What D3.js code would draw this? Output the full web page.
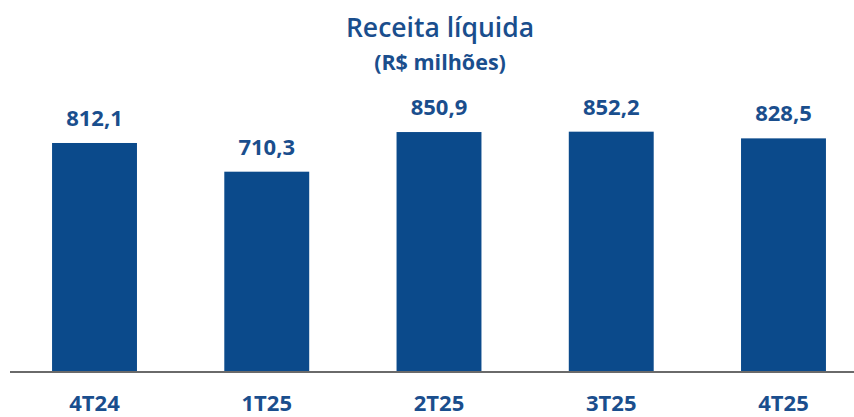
<!DOCTYPE html>
<html>
<head>
<meta charset="utf-8">
<script src="https://cdn.jsdelivr.net/npm/d3@7"></script>
<style>
  body { margin: 0; background: #fff; }
  text { font-family: "Open Sans", sans-serif; }
</style>
</head>
<body>
<div id="chart"></div>
<script>
// data
let quarters = ["4T24", "1T25", "2T25", "3T25", "4T25"]
let revenue = [812.1, 710.3, 850.9, 852.2, 828.5]

let width = 854, height = 417
let barColor = "#0B4A8B", textColor = "#1A4E8D"

let svg = d3.select("#chart")
    .append("svg")
        .attr("width", width)
        .attr("height", height)

// scales
let x = d3.scaleBand()
    .domain(quarters)
    .range([17, 861])
    .paddingInner(0.507)
    .paddingOuter(0.2035)

let y = d3.scaleLinear()
    .domain([0, 1000])
    .range([372, 90])

// title
svg.append("text")
    .attr("x", 440).attr("y", 37)
    .attr("text-anchor", "middle")
    .style("font-size", "26.5px").style("font-weight", 600)
    .attr("fill", textColor)
    .text("Receita líquida")

svg.append("text")
    .attr("x", 440).attr("y", 70)
    .attr("text-anchor", "middle")
    .style("font-size", "21.5px").style("font-weight", 700)
    .attr("fill", textColor)
    .text("(R$ milhões)")

// bars
svg.selectAll("rect.bar")
    .data(revenue)
    .enter()
    .append("rect")
        .attr("class", "bar")
        .attr("x", (d, i) => x(quarters[i]))
        .attr("width", x.bandwidth())
        .attr("y", d => y(d))
        .attr("height", d => y(0) - y(d))
        .attr("fill", barColor)

// value labels
svg.selectAll("text.val")
    .data(revenue)
    .enter()
    .append("text")
        .attr("class", "val")
        .attr("x", (d, i) => x(quarters[i]) + x.bandwidth() / 2)
        .attr("y", d => y(d) - 17)
        .attr("text-anchor", "middle")
        .style("font-size", "22px").style("font-weight", 700)
        .attr("fill", textColor)
        .text(d => d3.format(".1f")(d).replace(".", ","))

// baseline
svg.append("line")
    .attr("x1", 10).attr("x2", width)
    .attr("y1", y(0)).attr("y2", y(0))
    .attr("stroke", "#6a6a6a")
    .attr("stroke-width", 2)

// x axis labels
let xAxis = svg.append("g")
    .attr("transform", `translate(0, ${y(0)})`)
    .call(d3.axisBottom(x).tickSize(0).tickPadding(23))
xAxis.select(".domain").remove()
xAxis.selectAll("text")
    .style("font-family", "'Open Sans', sans-serif")
    .style("font-size", "22px").style("font-weight", 700)
    .attr("fill", textColor)
</script>
</body>
</html>
